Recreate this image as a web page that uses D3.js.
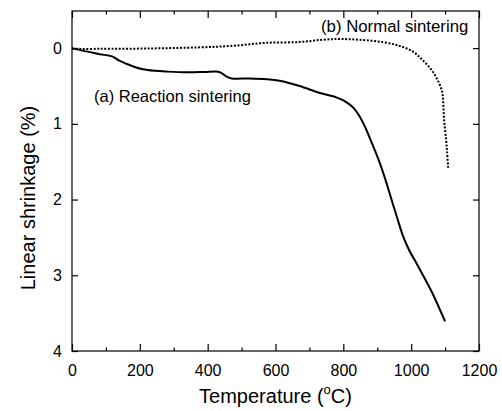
<!DOCTYPE html>
<html><head><meta charset="utf-8">
<script src="https://cdn.jsdelivr.net/npm/d3@7"></script>
<style>body{margin:0;background:#fff}svg{display:block}text{font-family:"Liberation Sans",Arial,sans-serif;fill:#000}</style>
</head><body><svg id="c" width="502" height="411"></svg>
<script>
// (a) Reaction sintering: [temperature °C, linear shrinkage %]
const reactionT = [0,38,82,118,141,162,185,209,244,279,338,391,426,441,453,471,524,574,612,671,729,779,800,820,830,845,865,880,906,925,942,960,975,988,1000,1012,1024,1062,1100];
const reactionS = [0,0.04,0.08,0.11,0.17,0.21,0.25,0.28,0.30,0.31,0.32,0.315,0.31,0.33,0.37,0.40,0.40,0.41,0.43,0.50,0.59,0.65,0.69,0.75,0.79,0.88,1.05,1.21,1.50,1.75,2.00,2.26,2.47,2.61,2.72,2.81,2.91,3.23,3.61];
// (b) Normal sintering
const normalT = [0,82,229,376,474,574,671,738,788,847,915,965,1003,1032,1062,1082,1091,1094,1097,1103,1106,1109];
const normalS = [0.01,0.01,0.005,-0.01,-0.03,-0.07,-0.08,-0.11,-0.12,-0.11,-0.08,-0.03,0.04,0.15,0.30,0.46,0.57,0.68,0.94,1.21,1.38,1.58];
const xMajor = [0,200,400,600,800,1000,1200];
const xMinor = [100,300,500,700,900,1100];
const yTicks = [0,1,2,3,4];
const labelA = "(a) Reaction sintering";
const labelB = "(b) Normal sintering";

const svg = d3.select("#c");
const L=72,R=479,T=11,B=351;
const x = d3.scaleLinear().domain([0,1200]).range([L,R]);
const y = d3.scaleLinear().domain([-0.49,4]).range([T,B]);

svg.append("rect").attr("x",L).attr("y",T).attr("width",R-L).attr("height",B-T)
  .attr("fill","none").attr("stroke","#000").attr("stroke-width",1.2);

function axisStyle(g){g.select(".domain").remove();g.selectAll("line").attr("stroke","#000").attr("stroke-width",1.2);}
svg.append("g").attr("transform",`translate(0,${B})`)
  .call(d3.axisBottom(x).tickValues(xMajor).tickSizeInner(-7).tickPadding(14).tickFormat(d3.format("d")))
  .call(axisStyle).call(g=>g.selectAll("text").attr("font-size",16).attr("dy","0.71em"));
svg.append("g").attr("transform",`translate(0,${B})`)
  .call(d3.axisBottom(x).tickValues(xMinor).tickSizeInner(-3.5).tickFormat(""))
  .call(axisStyle);
svg.append("g").attr("transform",`translate(0,${T})`)
  .call(d3.axisTop(x).tickValues(xMajor).tickSizeInner(-7).tickFormat(""))
  .call(axisStyle);
svg.append("g").attr("transform",`translate(0,${T})`)
  .call(d3.axisTop(x).tickValues(xMinor).tickSizeInner(-3.5).tickFormat(""))
  .call(axisStyle);
svg.append("g").attr("transform",`translate(${L},0)`)
  .call(d3.axisLeft(y).tickValues(yTicks).tickSizeInner(-6).tickPadding(10).tickFormat(d3.format("d")))
  .call(axisStyle).call(g=>g.selectAll("text").attr("font-size",16));
svg.append("g").attr("transform",`translate(${R},0)`)
  .call(d3.axisRight(y).tickValues(yTicks).tickSizeInner(-6).tickFormat(""))
  .call(axisStyle);

const line = d3.line().curve(d3.curveCatmullRom.alpha(0.5));
svg.append("path").attr("d",line(reactionT.map((t,i)=>[x(t),y(reactionS[i])])))
  .attr("fill","none").attr("stroke","#000").attr("stroke-width",2);
svg.append("path").attr("d",line(normalT.map((t,i)=>[x(t),y(normalS[i])])))
  .attr("fill","none").attr("stroke","#000").attr("stroke-width",2).attr("stroke-dasharray","2,1.6");

svg.append("text").attr("x",94).attr("y",y(0.64)).attr("font-size",16.5).attr("dy","0.35em").text(labelA);
svg.append("text").attr("x",321).attr("y",y(-0.29)).attr("font-size",16.8).attr("dy","0.35em").text(labelB);

const xt = svg.append("text").attr("x",(L+R)/2).attr("y",403).attr("text-anchor","middle").attr("font-size",20);
xt.append("tspan").text("Temperature (");
xt.append("tspan").attr("font-size",13).attr("dy",-9).text("o");
xt.append("tspan").attr("dy",9).text("C)");
svg.append("text").attr("transform",`translate(35,${(T+B)/2+17}) rotate(-90)`).attr("text-anchor","middle").attr("font-size",20).text("Linear shrinkage (%)");
</script></body></html>
